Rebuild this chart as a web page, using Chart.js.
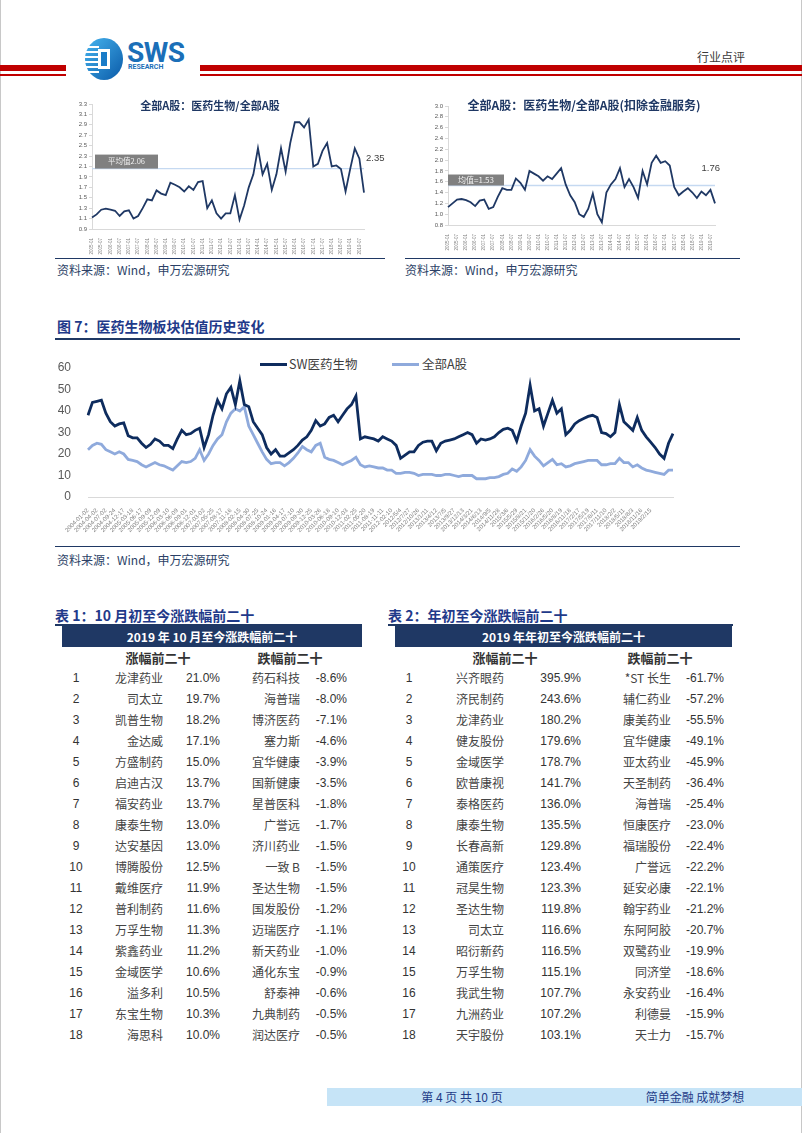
<!DOCTYPE html>
<html>
<head>
<meta charset="utf-8">
<script src="https://cdn.jsdelivr.net/npm/chart.js@4.4.1/dist/chart.umd.min.js"></script>
<style>
  html, body { margin: 0; padding: 0; background: #fff; }
  body { position: relative; width: 802px; height: 1133px; overflow: hidden;
         font-family: "Liberation Sans", "Noto Sans CJK SC", sans-serif; color: #333; }
  .a { position: absolute; white-space: nowrap; line-height: 16px; }
  .cn { font-family: "Noto Sans CJK SC", sans-serif; }
  .rule { position: absolute; background: #1f3864; }
  canvas { position: absolute; }
  .src { font-size: 12px; color: #2b3f66; }
  .ttl { font-size: 14px; font-weight: bold; color: #1f3a8a; }
  .bar { position: absolute; background: #1f3864; color: #fff; font-weight: bold; font-size: 12px;
         text-align: center; line-height: 21px; }
  .sub { font-weight: bold; font-size: 13px; color: #333; }
  .nm { font-size: 12px; color: #444; font-family: "Noto Sans CJK SC", sans-serif; text-align: right; }
  .nu { font-size: 12px; color: #333; text-align: right; }
</style>
</head>
<body>

<!-- page edges -->
<div class="rule" style="left:0;top:0;width:1px;height:1133px;background:#c8c8c8"></div>
<div class="rule" style="left:801px;top:0;width:1px;height:1133px;background:#c8c8c8"></div>

<!-- header -->
<div class="rule" style="left:0;top:65px;width:66px;height:6px;background:#c00000"></div>
<div class="rule" style="left:0;top:74px;width:66px;height:1.5px;background:#c00000"></div>
<div class="rule" style="left:200px;top:65px;width:602px;height:6px;background:#c00000"></div>
<div class="rule" style="left:200px;top:74px;width:602px;height:1.5px;background:#c00000"></div>
<svg style="position:absolute;left:83px;top:37px" width="42" height="44" viewBox="0 0 42 44">
  <defs>
    <linearGradient id="g" x1="0" y1="0" x2="1" y2="1">
      <stop offset="0" stop-color="#46b4ef"/><stop offset="1" stop-color="#0a5aa8"/>
    </linearGradient>
  </defs>
  <ellipse cx="21" cy="22" rx="19" ry="21" fill="url(#g)"/>
  <g fill="#fff">
    <rect x="2" y="9" width="14" height="2"/><rect x="1" y="14" width="15" height="2"/>
    <rect x="1" y="19" width="15" height="2"/><rect x="1" y="24" width="15" height="2"/>
    <rect x="1" y="29" width="15" height="2"/><rect x="3" y="34" width="13" height="2"/>
    <rect x="15" y="12" width="12" height="20"/>
  </g>
  <rect x="18" y="15" width="6" height="14" fill="#1a7cc8"/>
</svg>
<div class="a" style="left:127px;top:38px;font-family:Roboto,'Liberation Sans';font-weight:bold;font-size:28px;line-height:30px;color:#1b6fb8;letter-spacing:-0.5px">SWS</div>
<div class="a" style="left:128px;top:63px;font-family:Roboto,'Liberation Sans';font-weight:bold;font-size:7px;line-height:8px;color:#1b6fb8">RESEARCH</div>
<div class="a cn" style="left:697px;top:49px;font-size:12px;color:#3a3a3a">行业点评</div>

<!-- small charts -->
<canvas id="c1" width="330" height="160" style="left:60px;top:95px"></canvas>
<div class="a cn" style="left:210px;top:97px;transform:translateX(-50%);font-size:11px;font-weight:bold;color:#1f3864">全部A股：医药生物/全部A股</div>
<canvas id="c2" width="330" height="156" style="left:405px;top:95px"></canvas>
<div class="a cn" style="left:584px;top:97px;transform:translateX(-50%);font-size:12px;font-weight:bold;color:#1f3864">全部A股：医药生物/全部A股(扣除金融服务)</div>

<div class="rule" style="left:55px;top:258px;width:330px;height:1px"></div>
<div class="rule" style="left:405px;top:258px;width:335px;height:1px"></div>
<div class="a cn src" style="left:57px;top:262px">资料来源：Wind，申万宏源研究</div>
<div class="a cn src" style="left:405px;top:262px">资料来源：Wind，申万宏源研究</div>

<!-- figure 7 -->
<div class="a cn ttl" style="left:57px;top:318px">图 7：医药生物板块估值历史变化</div>
<div class="rule" style="left:55px;top:338px;width:685px;height:1.5px"></div>
<div class="rule" style="left:260px;top:363px;width:27px;height:3px;background:#0e2c5e"></div>
<div class="a cn" style="left:289px;top:356px;font-size:12.5px;color:#404040">SW医药生物</div>
<div class="rule" style="left:392px;top:363px;width:27px;height:3px;background:#8faadc"></div>
<div class="a cn" style="left:422px;top:356px;font-size:12.5px;color:#404040">全部A股</div>
<canvas id="c3" width="690" height="192" style="left:55px;top:345px"></canvas>
<div class="rule" style="left:55px;top:546px;width:685px;height:1px"></div>
<div class="a cn src" style="left:57px;top:552px">资料来源：Wind，申万宏源研究</div>

<!-- tables -->
<div class="a cn ttl" style="left:55px;top:607px">表 1：10 月初至今涨跌幅前二十</div>
<div class="rule" style="left:55px;top:624px;width:307px;height:1.5px"></div>
<div class="bar cn" style="left:62px;top:626px;width:300px;height:21px">2019 年 10 月至今涨跌幅前二十</div>
<div class="a cn sub" style="left:158px;top:650px;transform:translateX(-50%)">涨幅前二十</div>
<div class="a cn sub" style="left:290px;top:650px;transform:translateX(-50%)">跌幅前二十</div>

<div class="a cn ttl" style="left:388px;top:607px">表 2：年初至今涨跌幅前二十</div>
<div class="rule" style="left:388px;top:624px;width:345px;height:1.5px"></div>
<div class="bar cn" style="left:395px;top:626px;width:337px;height:21px">2019 年年初至今涨跌幅前二十</div>
<div class="a cn sub" style="left:505px;top:650px;transform:translateX(-50%)">涨幅前二十</div>
<div class="a cn sub" style="left:660px;top:650px;transform:translateX(-50%)">跌幅前二十</div>

<div id="rows"></div>

<!-- footer -->
<div class="rule" style="left:327px;top:1088px;width:475px;height:18px;background:#c6e4f7"></div>
<div class="a cn" style="left:462px;top:1089px;transform:translateX(-50%);font-size:12px;color:#1f3c88">第 4 页 共 10 页</div>
<div class="a cn" style="left:695px;top:1089px;transform:translateX(-50%);font-size:12px;color:#1f3c88">简单金融 成就梦想</div>

<script>
// ---- figure 7: PE history ----
const peTicks = [
  '2004-01-02','2004-04-02','2004-07-02','2004-09-24','2004-12-17','2005-03-18','2005-06-17','2005-09-09',
  '2005-12-09','2006-03-10','2006-06-09','2006-09-01','2006-12-01','2007-03-02','2007-05-25','2007-08-17',
  '2007-11-16','2008-02-15','2008-04-30','2008-07-25','2008-10-24','2009-01-16','2009-04-17','2009-07-10',
  '2009-09-30','2009-12-25','2010-03-26','2010-06-18','2010-09-10','2010-12-03','2011-02-25','2011-05-20',
  '2011-08-19','2011-11-11','2012-02-10',
  '2012/5/4','2012/7/27','2012/10/26','2013/1/11','2013/4/12','2013/7/5','2013/9/27','2013/12/13',
  '2014/3/21','2014/6/13','2014/9/5','2014/11/28','2015/3/6','2015/5/29','2015/8/21','2015/11/20',
  '2016/2/26','2016/5/20','2016/8/19','2016/11/18','2017/2/17','2017/5/19','2017/8/11','2017/11/10',
  '2018/2/2','2018/5/11','2018/8/3','2018/11/16','2019/2/15'
];
const swMed = [
  38, 44, 44.5, 45, 39, 35, 33, 34, 34.5, 28.5,
  27.5, 27.5, 25, 23, 24.5, 27, 26, 24, 24, 22.5,
  27, 31, 29, 29.5, 31, 32, 23, 29, 38, 45,
  41, 48, 51, 43, 54, 43, 42, 35, 32, 29,
  23, 20, 22, 19, 19, 20.5, 22, 24, 26.5, 28,
  31, 35.5, 33, 34, 37, 38, 35, 38, 41, 43,
  47, 27, 28, 27.5, 27, 26, 28, 27, 26, 24,
  18, 19.5, 21, 21, 24, 25.5, 26, 26, 21.5, 25,
  26, 26.5, 27, 28, 29, 30, 29, 25, 27, 26.5,
  27, 28, 30, 31.5, 32, 31, 26, 33, 39, 52,
  40, 41, 33, 39, 45, 39, 41, 29, 31, 34,
  35.5, 36.5, 37.5, 38, 37, 30, 29.5, 28, 30, 43,
  35, 33, 31, 37, 31, 28, 25.5, 23, 20, 18,
  25, 29.5
];
const allA = [
  22, 24, 25, 24.5, 22, 21, 20, 21, 20, 17.5,
  17, 16.5, 15, 14, 15, 16, 15, 14.5, 13.5, 12.5,
  14.5, 16.5, 16, 16.5, 18, 22, 17, 20, 24, 27,
  29, 35, 39, 41, 40, 42, 33, 29, 25, 21,
  17.5, 15.5, 16, 16, 14.5, 16, 18, 20.5, 23.5, 22,
  21, 24, 25, 18.5, 17.5, 17, 16, 15, 16, 17,
  18.5, 15, 14, 14.5, 14, 13.5, 13.5, 12.5, 12.5, 11,
  11, 11.5, 11.5, 11, 10, 10.5, 10.5, 10.5, 10, 10,
  10.5, 10.5, 10, 9.5, 10, 10, 10, 8.5, 8.5, 8.5,
  9, 9, 9.5, 10.5, 11, 13, 12, 14, 17, 22,
  19, 17, 14.5, 16, 17.5, 15, 15.5, 14, 14.5, 15.5,
  16, 16.5, 17, 17, 17, 15, 15, 15.5, 15.5, 18,
  16, 16, 14, 15, 13.5, 12.5, 12, 11.5, 11, 10.5,
  12.5, 12.5
];

// ---- small charts: relative ratio ----
const smallTicks = [
  '2005-01','2005-07','2006-01','2006-07','2007-01','2007-07','2008-01','2008-07','2009-01','2009-07',
  '2010-01','2010-07','2011-01','2011-07','2012-01','2012-07','2013-01','2013-07','2014-01','2014-07',
  '2015-01','2015-07','2016-01','2016-07','2017-01','2017-07','2018-01','2018-07','2019-01','2019-07'
];
const ratioAll = [
  1.12, 1.18, 1.27, 1.29, 1.27, 1.25, 1.15, 1.24, 1.26, 1.1,
  1.15, 1.3, 1.47, 1.45, 1.64, 1.58, 1.55, 1.79, 1.75, 1.7,
  1.62, 1.72, 1.65, 1.8, 1.82, 1.3, 1.45, 1.2, 1.1, 1.2,
  1.2, 1.55, 1.08, 1.35, 1.7, 1.95, 2.45, 1.95, 2.15, 1.65,
  1.95, 2.45, 2.0, 2.55, 2.95, 2.95, 2.85, 3.0, 2.1, 2.15,
  2.4, 2.55, 2.1, 2.12, 2.05, 1.62, 2.05, 2.45, 2.25, 1.6
];
const ratioExFin = [
  1.13, 1.2, 1.27, 1.28, 1.26, 1.22, 1.15, 1.25, 1.27, 1.1,
  1.13, 1.32, 1.48, 1.45, 1.45, 1.66, 1.58, 1.45, 1.8, 1.75,
  1.7, 1.62, 1.7, 1.65, 1.75, 1.85, 1.55, 1.35, 1.22, 1.0,
  0.95, 1.1, 1.38, 1.0, 0.85, 1.4, 1.55, 1.65, 1.85, 1.5,
  1.65, 1.5, 1.3, 1.8, 1.55, 1.95, 2.08, 1.95, 1.98, 1.9,
  1.5, 1.35, 1.42, 1.48, 1.4, 1.3, 1.42, 1.35, 1.45, 1.2
];
const meanAll = 2.06, lastAll = 2.35;
const meanExFin = 1.53, lastExFin = 1.76;

// ---- tables ----
const t1UpNames = ['龙津药业','司太立','凯普生物','金达威','方盛制药','启迪古汉','福安药业','康泰生物','达安基因','博腾股份','戴维医疗','普利制药','万孚生物','紫鑫药业','金域医学','溢多利','东宝生物','海思科'];
const t1UpPct = ['21.0%','19.7%','18.2%','17.1%','15.0%','13.7%','13.7%','13.0%','13.0%','12.5%','11.9%','11.6%','11.3%','11.2%','10.6%','10.5%','10.3%','10.0%'];
const t1DownNames = ['药石科技','海普瑞','博济医药','塞力斯','宜华健康','国新健康','星普医科','广誉远','济川药业','一致 B','圣达生物','国发股份','迈瑞医疗','新天药业','通化东宝','舒泰神','九典制药','润达医疗'];
const t1DownPct = ['-8.6%','-8.0%','-7.1%','-4.6%','-3.9%','-3.5%','-1.8%','-1.7%','-1.5%','-1.5%','-1.5%','-1.2%','-1.1%','-1.0%','-0.9%','-0.6%','-0.5%','-0.5%'];
const t2UpNames = ['兴齐眼药','济民制药','龙津药业','健友股份','金域医学','欧普康视','泰格医药','康泰生物','长春高新','通策医疗','冠昊生物','圣达生物','司太立','昭衍新药','万孚生物','我武生物','九洲药业','天宇股份'];
const t2UpPct = ['395.9%','243.6%','180.2%','179.6%','178.7%','141.7%','136.0%','135.5%','129.8%','123.4%','123.3%','119.8%','116.6%','116.5%','115.1%','107.7%','107.2%','103.1%'];
const t2DownNames = ['*ST 长生','辅仁药业','康美药业','宜华健康','亚太药业','天圣制药','海普瑞','恒康医疗','福瑞股份','广誉远','延安必康','翰宇药业','东阿阿胶','双鹭药业','同济堂','永安药业','利德曼','天士力'];
const t2DownPct = ['-61.7%','-57.2%','-55.5%','-49.1%','-45.9%','-36.4%','-25.4%','-23.0%','-22.4%','-22.2%','-22.1%','-21.2%','-20.7%','-19.9%','-18.6%','-16.4%','-15.9%','-15.7%'];

// table rows
function cell(txt, cls, rightEdge, cy) {
  const d = document.createElement('div');
  d.className = 'a ' + cls;
  d.style.right = (802 - rightEdge) + 'px';
  d.style.top = (cy - 8) + 'px';
  d.textContent = txt;
  document.getElementById('rows').appendChild(d);
}
function numCell(txt, cx, cy) {
  const d = document.createElement('div');
  d.className = 'a nu';
  d.style.left = cx + 'px';
  d.style.top = (cy - 8) + 'px';
  d.style.transform = 'translateX(-50%)';
  d.textContent = txt;
  document.getElementById('rows').appendChild(d);
}
for (let i = 0; i < 18; i++) {
  const cy = 678 + 21 * i;
  numCell(String(i + 1), 76, cy);
  cell(t1UpNames[i], 'nm', 163, cy);
  cell(t1UpPct[i], 'nu', 220, cy);
  cell(t1DownNames[i], 'nm', 300, cy);
  cell(t1DownPct[i], 'nu', 347, cy);
  numCell(String(i + 1), 409, cy);
  cell(t2UpNames[i], 'nm', 504, cy);
  cell(t2UpPct[i], 'nu', 581, cy);
  cell(t2DownNames[i], 'nm', 671, cy);
  cell(t2DownPct[i], 'nu', 724, cy);
}

Chart.defaults.font.family = "'Liberation Sans', 'Noto Sans CJK SC', sans-serif";
Chart.defaults.animation = false;

// labels for points: tick label on every other point, blanks between and after
function pointLabels(ticks, n) {
  const out = [];
  for (let i = 0; i < n; i++) out.push(i % 2 === 0 && i / 2 < ticks.length ? ticks[i / 2] : '');
  return out;
}

// mean line, grey tag, last value text
const refLine = {
  id: 'refLine',
  beforeDatasetsDraw(chart, args, o) {
    const { ctx, chartArea: a, scales: { y } } = chart;
    const py = y.getPixelForValue(o.value);
    ctx.save();
    ctx.strokeStyle = '#c5d9f1';
    ctx.lineWidth = 1.3;
    ctx.beginPath(); ctx.moveTo(a.left, py); ctx.lineTo(a.right, py); ctx.stroke();
    ctx.fillStyle = '#808080';
    ctx.fillRect(a.left + o.boxDx, py - o.boxH, o.boxW, o.boxH);
    ctx.fillStyle = '#eeeeee';
    ctx.font = o.boxFont;
    ctx.textAlign = 'center'; ctx.textBaseline = 'middle';
    ctx.fillText(o.boxText, a.left + o.boxDx + o.boxW / 2, py - o.boxH / 2);
    ctx.restore();
  },
  afterDatasetsDraw(chart, args, o) {
    const { ctx, chartArea: a, scales: { y } } = chart;
    ctx.save();
    ctx.fillStyle = '#404040';
    ctx.font = "9.5px 'Liberation Sans'";
    ctx.textAlign = o.endAlign; ctx.textBaseline = o.endBaseline;
    ctx.fillText(o.endValue.toFixed(2), a.right + o.endDx, y.getPixelForValue(o.endValue));
    ctx.restore();
  }
};

function smallChart(id, data, yMin, yMax, yWidth, pad, ref) {
  const labels = pointLabels(smallTicks, data.length);
  return new Chart(document.getElementById(id), {
    type: 'line',
    data: { labels, datasets: [{ data, borderColor: '#1f3864', borderWidth: 1.8, pointRadius: 0, tension: 0 }] },
    plugins: [refLine],
    options: {
      responsive: false, devicePixelRatio: 1,
      layout: { padding: pad },
      plugins: { legend: { display: false }, tooltip: { enabled: false }, refLine: ref },
      scales: {
        x: {
          grid: { display: false },
          border: { color: '#d9d9d9' },
          ticks: { autoSkip: false, minRotation: 90, maxRotation: 90, padding: 1,
                   font: { size: 4.5 }, color: '#7f7f7f',
                   callback: (v, i) => labels[i] },
          afterFit: s => { s.height = 26; }
        },
        y: {
          min: yMin, max: yMax,
          grid: { display: true, drawOnChartArea: false, tickLength: 3, color: '#d9d9d9' },
          border: { color: '#d9d9d9' },
          ticks: { stepSize: 0.2, font: { size: 6 }, color: '#595959', padding: 2,
                   callback: v => Number(v).toFixed(1) },
          afterFit: s => { s.width = yWidth; }
        }
      }
    }
  });
}

smallChart('c1', ratioAll, 0.9, 3.3, 32, { top: 9, right: 26, left: 0, bottom: 0 },
  { value: meanAll, boxText: '平均值' + meanAll.toFixed(2), boxDx: 3, boxW: 63, boxH: 14,
    boxFont: "7.5px 'Noto Sans CJK SC'", endValue: lastAll, endDx: 2, endAlign: 'left', endBaseline: 'top' });
smallChart('c2', ratioExFin, 0.8, 3.0, 43, { top: 11, right: 20, left: 0, bottom: 0 },
  { value: meanExFin, boxText: '均值=' + meanExFin.toFixed(2), boxDx: 0, boxW: 56, boxH: 11,
    boxFont: "8px 'Noto Sans CJK SC'", endValue: lastExFin, endDx: 5, endAlign: 'right', endBaseline: 'bottom' });

const peLabels = pointLabels(peTicks, swMed.length);
new Chart(document.getElementById('c3'), {
  type: 'line',
  data: {
    labels: peLabels,
    datasets: [
      { label: 'SW医药生物', data: swMed, borderColor: '#0e2c5e', borderWidth: 2.8, pointRadius: 0, tension: 0 },
      { label: '全部A股', data: allA, borderColor: '#8faadc', borderWidth: 2.8, pointRadius: 0, tension: 0 }
    ]
  },
  options: {
    responsive: false, devicePixelRatio: 1,
    layout: { padding: { top: 23, right: 72, left: 0, bottom: 0 } },
    plugins: { legend: { display: false }, tooltip: { enabled: false } },
    scales: {
      x: {
        grid: { display: false },
        border: { color: '#d9d9d9', width: 1 },
        ticks: { autoSkip: false, minRotation: 45, maxRotation: 45, padding: 2,
                 font: { size: 6 }, color: '#7f7f7f',
                 callback: (v, i) => peLabels[i] },
        afterFit: s => { s.height = 40; }
      },
      y: {
        min: 0, max: 60,
        grid: { display: false },
        border: { display: false },
        ticks: { stepSize: 10, font: { size: 12 }, color: '#595959', padding: 9 },
        afterFit: s => { s.width = 33; }
      }
    }
  }
});
</script>
</body>
</html>
